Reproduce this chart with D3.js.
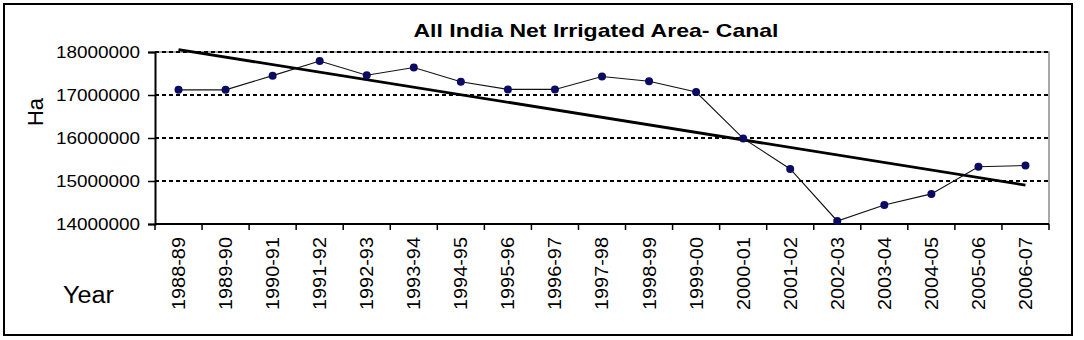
<!DOCTYPE html>
<html>
<head>
<meta charset="utf-8">
<script src="https://cdn.jsdelivr.net/npm/d3@7"></script>
<style>
  body { margin: 0; background: #fff; }
  svg { display: block; font-family: "Liberation Sans", Arial, sans-serif; }
</style>
</head>
<body>
<svg id="chart" width="1084" height="340"></svg>
<script>
// years on the x axis
const years = ["1988-89","1989-90","1990-91","1991-92","1992-93","1993-94","1994-95","1995-96",
  "1996-97","1997-98","1998-99","1999-00","2000-01","2001-02","2002-03","2003-04","2004-05",
  "2005-06","2006-07"];
// net irrigated area by canals (ha)
const canalArea = [17120000,17120000,17450000,17790000,17460000,17640000,17310000,17130000,
  17130000,17430000,17320000,17070000,15990000,15280000,14070000,14440000,14700000,
  15330000,15360000];
const yTicks = [14000000,15000000,16000000,17000000,18000000];

const svg = d3.select("#chart");
const plot = { left: 155, right: 1049, top: 52, bottom: 224 };

// outer frame
svg.append("rect")
  .attr("x", 4).attr("y", 4)
  .attr("width", 1068).attr("height", 331)
  .attr("fill", "none").attr("stroke", "#000").attr("stroke-width", 2);

const x = d3.scaleBand().domain(years).range([plot.left, plot.right]);
const y = d3.scaleLinear().domain([14000000, 18000000]).range([plot.bottom, plot.top]);

// plot border (grey top/right)
svg.append("path")
  .attr("d", `M${plot.left},${plot.top}H${plot.right}V${plot.bottom}`)
  .attr("fill", "none").attr("stroke", "#8c8c8c").attr("stroke-width", 1.5);

// dotted gridlines
svg.append("g").selectAll("line")
  .data(yTicks.filter(d => d > 14000000))
  .join("line")
  .attr("x1", plot.left).attr("x2", plot.right)
  .attr("y1", d => y(d)).attr("y2", d => y(d))
  .attr("stroke", "#000").attr("stroke-width", 1.8)
  .attr("stroke-dasharray", "4,3");

// y axis
const yAxis = svg.append("g")
  .attr("transform", `translate(${plot.left},0)`)
  .call(d3.axisLeft(y).tickValues(yTicks).tickSize(7).tickPadding(8).tickFormat(d3.format("d")));
yAxis.select(".domain").attr("stroke-width", 2);
yAxis.selectAll(".tick line").attr("stroke-width", 1.5);
yAxis.selectAll(".tick text")
  .attr("font-size", 17).attr("fill", "#000")
  .attr("textLength", 84).attr("lengthAdjust", "spacingAndGlyphs");

// x axis: ticks sit on the category boundaries
const xAxis = svg.append("g")
  .attr("transform", `translate(0,${plot.bottom})`);
xAxis.append("line")
  .attr("x1", plot.left).attr("x2", plot.right)
  .attr("stroke", "#000").attr("stroke-width", 2);
xAxis.selectAll(".bound")
  .data(years.concat(["end"]))
  .join("line")
  .attr("class", "bound")
  .attr("x1", (d, i) => plot.left + i * x.step())
  .attr("x2", (d, i) => plot.left + i * x.step())
  .attr("y1", 0).attr("y2", 6)
  .attr("stroke", "#000").attr("stroke-width", 1.5);
xAxis.selectAll(".lbl")
  .data(years)
  .join("text")
  .attr("class", "lbl")
  .attr("transform", d => `translate(${x(d) + x.bandwidth() / 2},13) rotate(-90)`)
  .attr("text-anchor", "end")
  .attr("dy", "0.36em")
  .attr("font-size", 18)
  .attr("textLength", 73).attr("lengthAdjust", "spacingAndGlyphs")
  .text(d => d);

// linear trend line (least squares over category index)
const n = canalArea.length;
const xs = d3.range(1, n + 1);
const mx = d3.mean(xs), my = d3.mean(canalArea);
const slope = d3.sum(xs, (v, i) => (v - mx) * (canalArea[i] - my)) / d3.sum(xs, v => (v - mx) ** 2);
const trend = xs.map(v => my + slope * (v - mx));

const cx = d => x(d) + x.bandwidth() / 2;

svg.append("line")
  .attr("x1", cx(years[0])).attr("y1", y(trend[0]))
  .attr("x2", cx(years[n - 1])).attr("y2", y(trend[n - 1]))
  .attr("stroke", "#000").attr("stroke-width", 2.8);

// data series
svg.append("path")
  .datum(canalArea)
  .attr("d", d3.line().x((d, i) => cx(years[i])).y(d => y(d)))
  .attr("fill", "none").attr("stroke", "#111").attr("stroke-width", 1.1);

svg.append("g").selectAll("circle")
  .data(canalArea)
  .join("circle")
  .attr("cx", (d, i) => cx(years[i]))
  .attr("cy", d => y(d))
  .attr("r", 4)
  .attr("fill", "#0b0b66");

// title and axis labels
svg.append("text")
  .attr("x", 596).attr("y", 37)
  .attr("text-anchor", "middle")
  .attr("font-size", 19).attr("font-weight", "bold")
  .attr("textLength", 365).attr("lengthAdjust", "spacingAndGlyphs")
  .text("All India Net Irrigated Area- Canal");

svg.append("text")
  .attr("transform", "translate(43,112) rotate(-90)")
  .attr("text-anchor", "middle")
  .attr("font-size", 22)
  .text("Ha");

svg.append("text")
  .attr("x", 63).attr("y", 303)
  .attr("font-size", 23)
  .attr("textLength", 51).attr("lengthAdjust", "spacingAndGlyphs")
  .text("Year");
</script>
</body>
</html>
